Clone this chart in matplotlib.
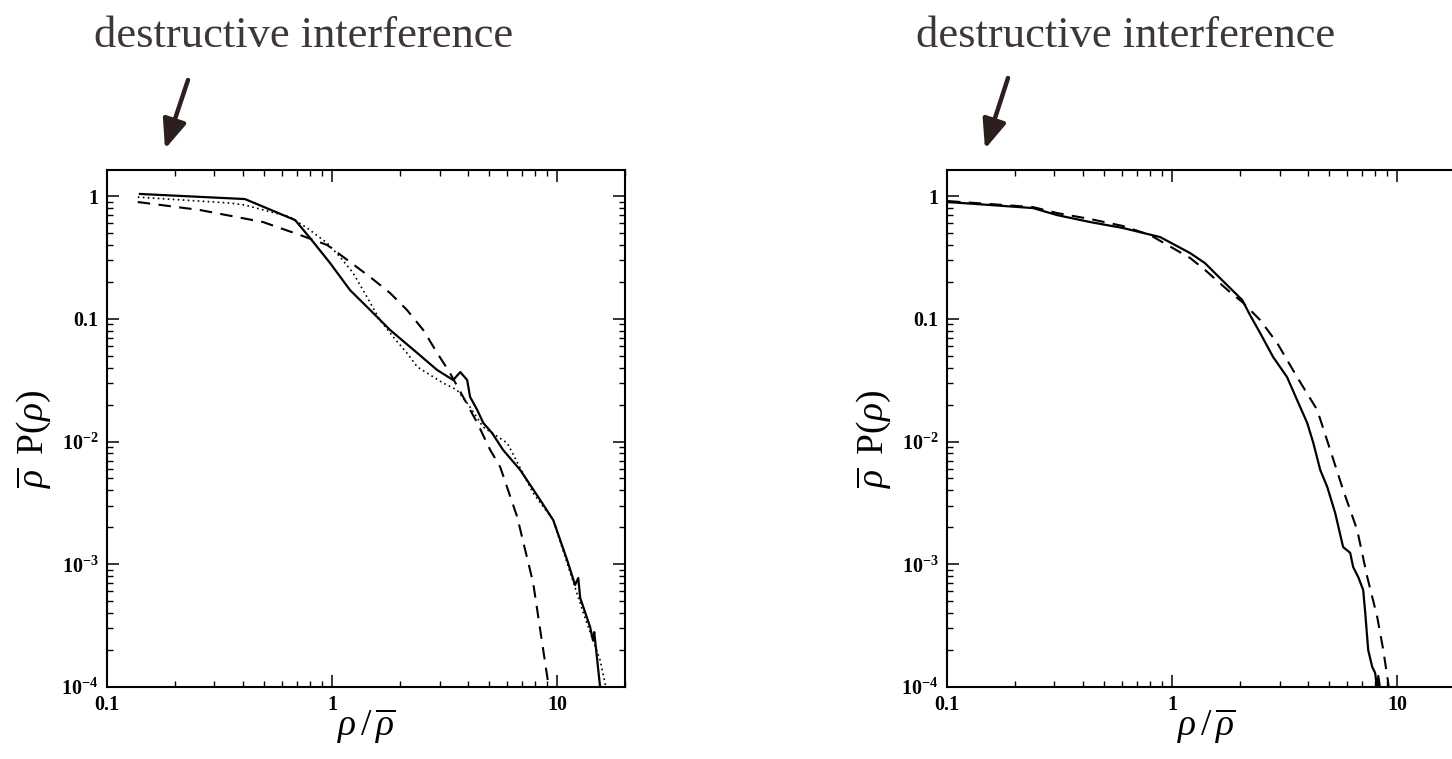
import matplotlib
matplotlib.use("Agg")
import matplotlib.pyplot as plt
from matplotlib.ticker import FixedLocator, FixedFormatter, LogLocator, NullFormatter

plt.rcParams['mathtext.fontset'] = 'custom'
plt.rcParams['mathtext.rm'] = 'Liberation Serif'
plt.rcParams['mathtext.it'] = 'Liberation Serif:italic'
plt.rcParams['mathtext.bf'] = 'Liberation Serif:bold'

# ---- data: left panel ----
left_solid_x = [0.140, 0.410, 0.685, 0.798, 0.980, 1.202, 1.475, 1.81, 2.39, 2.93, 3.45, 3.71,
                3.98, 4.10, 4.41, 4.69, 5.14, 5.75, 6.85, 8.40, 9.60, 11.07, 12.0, 12.4, 12.65,
                14.0, 14.4, 14.6, 15.1, 15.6]
left_solid_y = [1.04, 0.945, 0.637, 0.455, 0.284, 0.171, 0.118, 0.0810, 0.0526, 0.0382, 0.0317, 0.0368,
                0.0317, 0.0231, 0.0181, 0.0142, 0.0117, 0.00853, 0.00586, 0.00334, 0.00229, 0.00108,
                0.000678, 0.000773, 0.000531, 0.000308, 0.000241, 0.00028, 0.000157, 0.00009]

left_dotted_x = [0.137, 0.352, 0.41, 0.650, 0.774, 0.951, 1.086, 1.24, 1.43, 1.63, 1.87, 2.15, 2.39,
                 3.11, 3.59, 4.10, 4.69, 6.0, 7.82, 9.60, 11.07, 13.06, 15.5, 16.3, 16.6]
left_dotted_y = [0.98, 0.877, 0.845, 0.675, 0.549, 0.414, 0.318, 0.236, 0.150, 0.0977, 0.0710, 0.0526,
                 0.0405, 0.0300, 0.0263, 0.0191, 0.0131, 0.00972, 0.0038, 0.00229, 0.00102, 0.000401,
                 0.000166, 0.000108, 0.00009]

left_dashed_x = [0.137, 0.259, 0.493, 0.721, 0.951, 1.202, 1.475, 1.81, 2.15, 2.54, 2.93, 3.34, 3.82,
                 4.41, 5.04, 5.58, 6.64, 7.82, 9.03, 9.21]
left_dashed_y = [0.894, 0.769, 0.614, 0.481, 0.399, 0.290, 0.219, 0.162, 0.118, 0.0810, 0.0526, 0.0361,
                 0.0231, 0.0142, 0.00853, 0.00620, 0.00243, 0.000703, 0.000121, 0.000095]

# ---- data: right panel ----
right_solid_x = [0.101, 0.241, 0.308, 0.432, 0.605, 0.885, 1.202, 1.40, 1.63, 1.85, 2.05, 2.22, 2.46,
                 2.81, 3.24, 3.59, 3.98, 4.24, 4.55, 4.89, 5.30, 5.75, 6.18, 6.37, 6.71, 7.06, 7.21,
                 7.43, 7.74, 7.98, 8.15, 8.24, 8.40]
right_solid_y = [0.894, 0.798, 0.700, 0.614, 0.549, 0.463, 0.343, 0.284, 0.215, 0.171, 0.142, 0.107,
                 0.0766, 0.0488, 0.0335, 0.0218, 0.0142, 0.00972, 0.00586, 0.00426, 0.00262, 0.00138,
                 0.00124, 0.000950, 0.000787, 0.000617, 0.000401, 0.000200, 0.000146, 0.000130,
                 0.000095, 0.000123, 0.000095]

right_dashed_x = [0.101, 0.241, 0.308, 0.432, 0.605, 0.798, 1.202, 1.40, 1.63, 1.85, 2.05, 2.46, 2.93,
                  3.59, 4.41, 5.04, 5.75, 6.64, 7.36, 8.15, 8.67, 9.12, 9.2]
right_dashed_y = [0.91, 0.813, 0.727, 0.650, 0.570, 0.481, 0.313, 0.250, 0.195, 0.159, 0.137, 0.0977,
                  0.0634, 0.0335, 0.0181, 0.00853, 0.00403, 0.00190, 0.000787, 0.000372, 0.000200,
                  0.000108, 0.000095]

y_ticks = [1e-4, 1e-3, 1e-2, 0.1, 1]
y_tick_labels = [r'$\mathbf{10^{-4}}$', r'$\mathbf{10^{-3}}$', r'$\mathbf{10^{-2}}$', '0.1', '1']
x_ticks = [0.1, 1, 10]
x_tick_labels = ['0.1', '1', '10']
annotation_text = 'destructive interference'

W, H = 1452, 759
fig = plt.figure(figsize=(W / 100, H / 100), dpi=100)

def px_rect(x0, x1, y_top, y_bot):
    return [x0 / W, 1 - y_bot / H, (x1 - x0) / W, (y_bot - y_top) / H]

ax_l = fig.add_axes(px_rect(107, 625, 170, 687))
ax_r = fig.add_axes(px_rect(947, 1465, 170, 687))

ax_l.plot(left_solid_x, left_solid_y, color='black', lw=1.6, ls='-')
ax_l.plot(left_dotted_x, left_dotted_y, color='black', lw=1.2, ls=(0, (1, 2)))
ax_l.plot(left_dashed_x, left_dashed_y, color='black', lw=1.5, ls=(0, (6, 4)))

ax_r.plot(right_solid_x, right_solid_y, color='black', lw=1.6, ls='-')
ax_r.plot(right_dashed_x, right_dashed_y, color='black', lw=1.5, ls=(0, (6, 4)))

for ax in (ax_l, ax_r):
    ax.set_xscale('log')
    ax.set_yscale('log')
    ax.set_xlim(0.1, 20)
    ax.set_ylim(1e-4, 1.63)
    ax.xaxis.set_major_locator(FixedLocator(x_ticks))
    ax.xaxis.set_major_formatter(FixedFormatter(x_tick_labels))
    ax.yaxis.set_major_locator(FixedLocator(y_ticks))
    ax.yaxis.set_major_formatter(FixedFormatter(y_tick_labels))
    ax.xaxis.set_minor_locator(LogLocator(base=10, subs=range(2, 10)))
    ax.yaxis.set_minor_locator(LogLocator(base=10, subs=range(2, 10)))
    ax.xaxis.set_minor_formatter(NullFormatter())
    ax.yaxis.set_minor_formatter(NullFormatter())
    ax.tick_params(which='both', direction='in', top=True, right=True, colors='black')
    ax.tick_params(which='major', length=8.5, width=1.1, labelsize=14.5, pad=6)
    ax.tick_params(which='minor', length=4.3, width=1.0)
    for lab in ax.get_xticklabels() + ax.get_yticklabels():
        lab.set_fontfamily('Liberation Serif')
        lab.set_fontweight('bold')
    for sp in ax.spines.values():
        sp.set_linewidth(1.5)
    ax.set_ylabel(r'$\overline{\rho}\;\;\mathrm{P}(\rho)$', fontsize=27)
    ax.yaxis.set_label_coords(-0.105, 0.48)
    ax.set_xlabel(r'$\rho\,/\,\overline{\rho}$', fontsize=27)
    ax.xaxis.set_label_coords(0.5, -0.038)

text_color = '#3d3735'
arrow_color = '#2b201d'
fig.text(304 / W, 1 - 36 / H, annotation_text, fontsize=32, color=text_color,
         family='Liberation Serif', ha='center', va='center')
fig.text(1126 / W, 1 - 36 / H, annotation_text, fontsize=32, color=text_color,
         family='Liberation Serif', ha='center', va='center')

for (x0, y0, x1, y1) in [(188, 80, 165, 149), (1008, 78, 985, 149)]:
    fig.patches.append(matplotlib.patches.FancyArrowPatch(
        (x0 / W, 1 - y0 / H), (x1 / W, 1 - y1 / H), transform=fig.transFigure,
        arrowstyle='-|>,head_length=1.1,head_width=0.45', mutation_scale=16,
        lw=3.2, color=arrow_color, shrinkA=0, shrinkB=0))

fig.savefig('out.png', dpi=100)
